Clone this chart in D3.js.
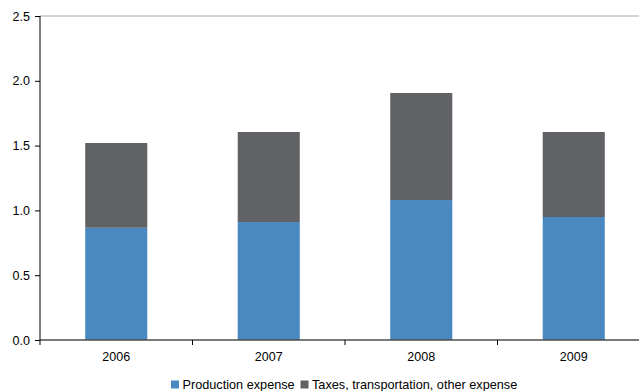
<!DOCTYPE html>
<html>
<head>
<meta charset="utf-8">
<script src="https://cdn.jsdelivr.net/npm/d3@7"></script>
<style>
  html, body { margin: 0; padding: 0; background: #fff; }
  svg { display: block; font-family: "Liberation Sans", Arial, sans-serif; }
</style>
</head>
<body>
<svg id="chart" width="639" height="391"></svg>
<script>
// Expense per unit by year, split into two stacked components
const years = ["2006", "2007", "2008", "2009"];
const production = [0.866, 0.91, 1.08, 0.949];
const taxesOther = [0.654, 0.695, 0.826, 0.656];
const seriesNames = ["Production expense", "Taxes, transportation, other expense"];
const seriesColors = ["#4a89c0", "#616265"];
const yTicks = [0, 0.5, 1.0, 1.5, 2.0, 2.5];

const svg = d3.select("#chart");
const margin = { left: 40, top: 16, bottom: 340, right: 650 };

const x = d3.scaleBand()
  .domain(years)
  .range([margin.left, margin.right])
  .paddingInner(0.593)
  .paddingOuter(0.2965);

const y = d3.scaleLinear()
  .domain([0, 2.5])
  .range([margin.bottom, margin.top]);

const rows = years.map((yr, i) => ({ year: yr, production: production[i], taxes: taxesOther[i] }));
const stacked = d3.stack().keys(["production", "taxes"])(rows);

// top border of the plot area
svg.append("line")
  .attr("x1", margin.left).attr("x2", margin.right)
  .attr("y1", y(2.5)).attr("y2", y(2.5))
  .attr("stroke", "#a6a6a6").attr("stroke-width", 1);

// stacked bars
svg.append("g").selectAll("g")
  .data(stacked)
  .join("g")
  .attr("fill", (d, i) => seriesColors[i])
  .selectAll("rect")
  .data(d => d)
  .join("rect")
  .attr("x", d => x(d.data.year))
  .attr("width", x.bandwidth())
  .attr("y", d => y(d[1]))
  .attr("height", d => y(d[0]) - y(d[1]));

// y axis
const yAxis = svg.append("g")
  .attr("transform", `translate(${margin.left},0)`)
  .call(d3.axisLeft(y).tickValues(yTicks).tickFormat(d3.format(".1f")).tickSize(5).tickPadding(5));
yAxis.select(".domain").attr("stroke", "#000").attr("d", `M0,${y(2.5)}V${y(0)}`);
yAxis.selectAll(".tick line").attr("stroke", "#000");
yAxis.selectAll(".tick text").attr("fill", "#000").style("font-size", "12.5px");

// x axis with ticks at band boundaries
const xAxis = svg.append("g")
  .attr("transform", `translate(0,${margin.bottom})`);
xAxis.append("line")
  .attr("x1", margin.left).attr("x2", margin.right)
  .attr("stroke", "#4d4d4d").attr("stroke-width", 1.5);
const boundaries = years.map(yr => x(yr) - x.step() * x.paddingInner() / 2).concat([margin.right]);
xAxis.selectAll(".bt")
  .data(boundaries)
  .join("line")
  .attr("x1", d => d).attr("x2", d => d)
  .attr("y1", 0).attr("y2", 5)
  .attr("stroke", "#000");
xAxis.selectAll(".xl")
  .data(years)
  .join("text")
  .attr("x", d => x(d) + x.bandwidth() / 2)
  .attr("y", 21)
  .attr("text-anchor", "middle")
  .attr("fill", "#000")
  .style("font-size", "12.5px")
  .text(d => d);

// legend
const legend = svg.append("g").attr("transform", "translate(171,389)");
const items = [{ x: 0, i: 0 }, { x: 129.5, i: 1 }];
items.forEach(it => {
  legend.append("rect")
    .attr("x", it.x).attr("y", -8.5)
    .attr("width", 8).attr("height", 8)
    .attr("fill", seriesColors[it.i]);
  legend.append("text")
    .attr("x", it.x + 11.5).attr("y", 0)
    .attr("fill", "#000")
    .style("font-size", "12.7px")
    .text(seriesNames[it.i]);
});
</script>
</body>
</html>
